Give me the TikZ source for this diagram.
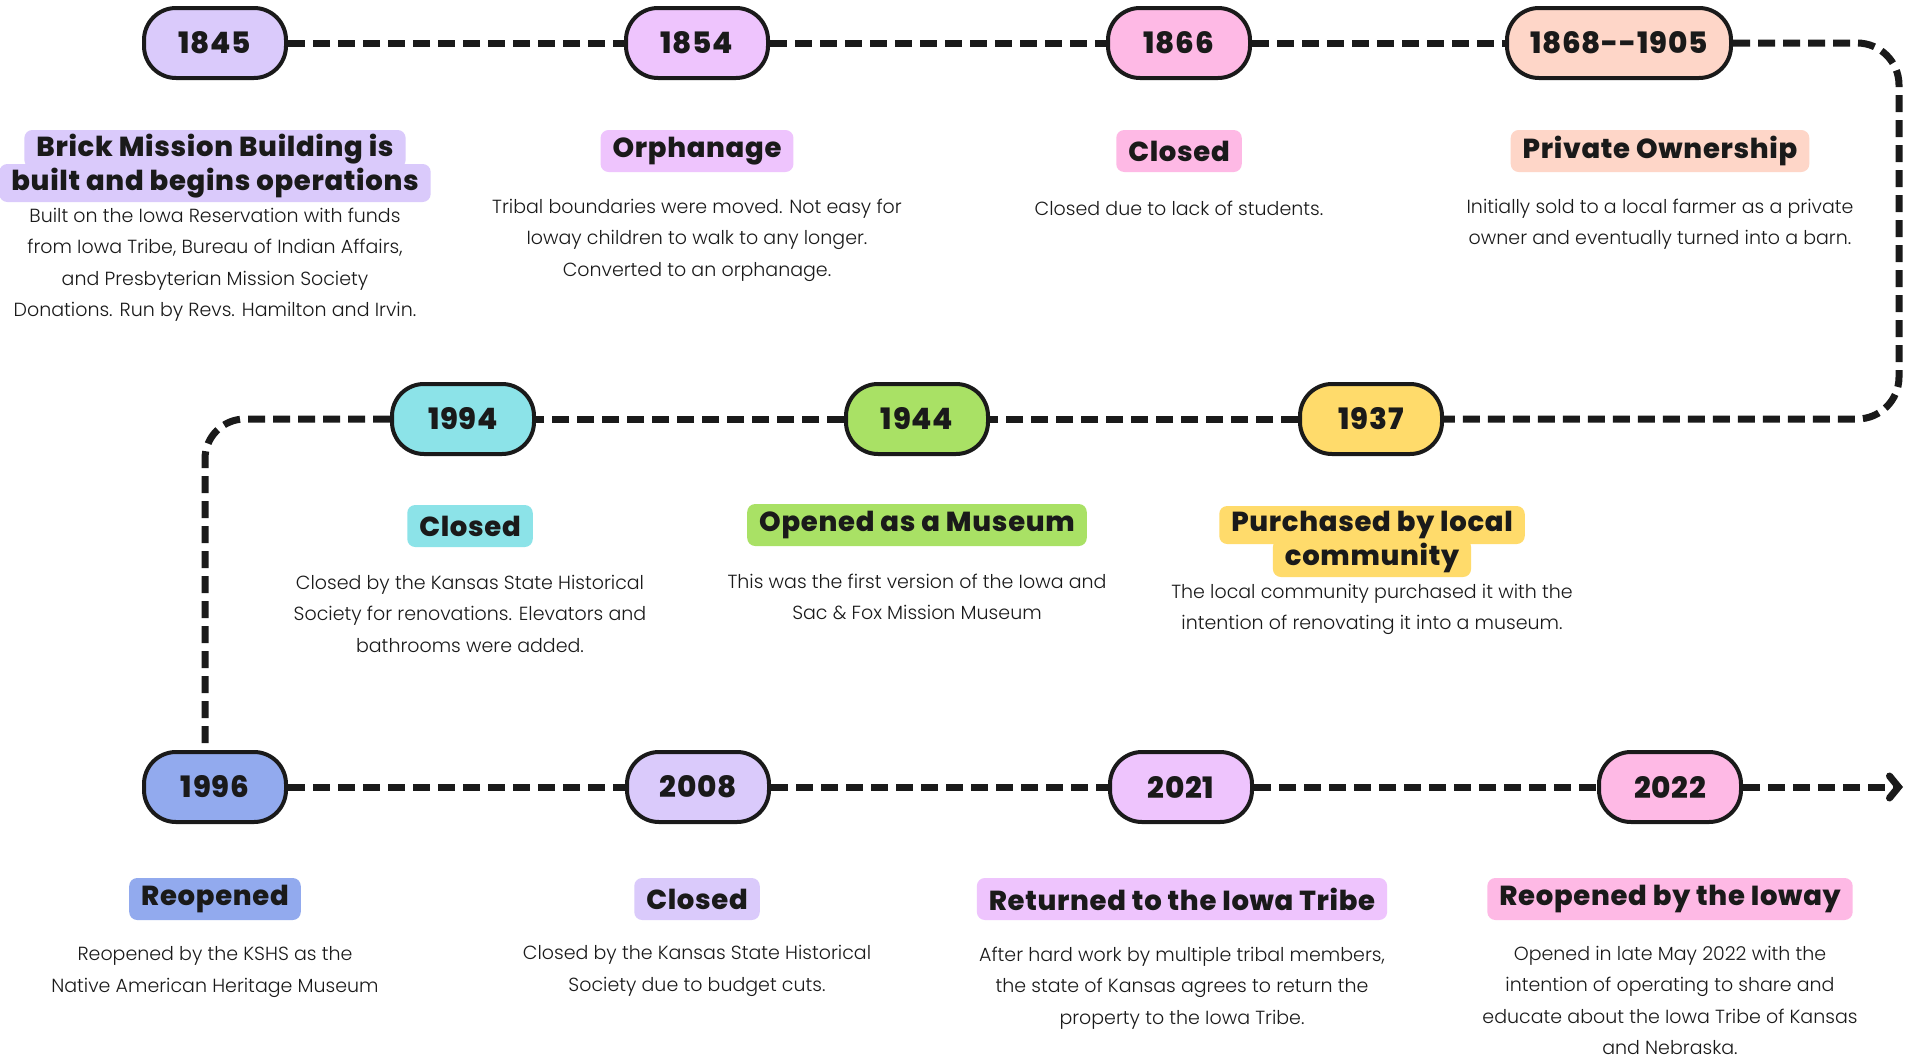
\documentclass[tikz,border=0pt]{standalone}
\usepackage{fontspec}
\setmainfont{Poppins}
\newfontfamily\bodyf{Poppins}[UprightFont=* Light]
\newfontfamily\headf{Poppins}[UprightFont=* ExtraBold, LetterSpace=2.5]
\usetikzlibrary{arrows.meta,backgrounds}
\definecolor{ink}{HTML}{1A1A1A}
\definecolor{cLav}{HTML}{DACAFB}
\definecolor{cOrch}{HTML}{EEC4FD}
\definecolor{cPink}{HTML}{FEB9E5}
\definecolor{cPeach}{HTML}{FED6C8}
\definecolor{cCyan}{HTML}{8CE3E8}
\definecolor{cGreen}{HTML}{A9E165}
\definecolor{cYellow}{HTML}{FFDB6B}
\definecolor{cBlue}{HTML}{92AAEE}
\tikzset{
  pill/.style={draw=ink, line width=4pt, rounded corners=32pt, minimum height=70pt,
    minimum width=142pt, inner sep=0pt, text=ink,
    font=\headf\fontsize{29.5}{31}\selectfont},
  tag/.style={rounded corners=8pt, inner xsep=12pt, inner ysep=0pt, minimum height=42pt,
    text=ink, font=\headf\fontsize{27.5}{30}\selectfont},
  tagline/.style={tag, minimum height=38pt},
  desc/.style={align=center, inner sep=0pt, text=ink,
    font=\bodyf\fontsize{19}{31.5}\selectfont},
  conn/.style={draw=ink, line width=7pt, dash pattern=on 17pt off 8pt}
}
\begin{document}
\begin{tikzpicture}[x=1pt,y=-1pt]
\useasboundingbox (0,0) rectangle (1911,1060);
% ---- row 1
\node[pill, fill=cLav]  (p1) at (215,43) {1845};
\node[pill, fill=cOrch] (p2) at (697,43) {1854};
\node[pill, fill=cPink] (p3) at (1179,43) {1866};
\node[pill, fill=cPeach, minimum width=224pt] (p4) at (1619,43) {1868{-}{-}1905};
\node[tagline, fill=cLav] (t1a) at (215,149) {Brick Mission Building is};
\node[tagline, fill=cLav] (t1b) at (215,183) {built and begins operations};
\node[desc] (d1) at (215,264.5) {Built on the Iowa Reservation with funds\\from Iowa Tribe, Bureau of Indian Affairs,\\and Presbyterian Mission Society\\Donations. Run by Revs. Hamilton and Irvin.};
\node[tag, fill=cOrch] (t2) at (697,151) {Orphanage};
\node[desc] (d2) at (697,240) {Tribal boundaries were moved. Not easy for\\Ioway children to walk to any longer.\\Converted to an orphanage.};
\node[tag, fill=cPink] (t3) at (1179,151) {Closed};
\node[desc] (d3) at (1179,208) {Closed due to lack of students.};
\node[tag, fill=cPeach] (t4) at (1660,151) {Private Ownership};
\node[desc] (d4) at (1660,224) {Initially sold to a local farmer as a private\\owner and eventually turned into a barn.};
% ---- row 2
\node[pill, fill=cYellow] (p5) at (1371,419) {1937};
\node[pill, fill=cGreen]  (p6) at (917,419) {1944};
\node[pill, fill=cCyan]   (p7) at (463,419) {1994};
\node[tagline, fill=cYellow] (t5a) at (1372,525) {Purchased by local};
\node[tagline, fill=cYellow] (t5b) at (1372,558) {community};
\node[desc] (d5) at (1372,609.5) {The local community purchased it with the\\intention of renovating it into a museum.};
\node[tag, fill=cGreen] (t6) at (917,525) {Opened as a Museum};
\node[desc] (d6) at (917,597) {This was the first version of the Iowa and\\Sac \& Fox Mission Museum};
\node[tag, fill=cCyan] (t7) at (470,526) {Closed};
\node[desc] (d7) at (470,613.5) {Closed by the Kansas State Historical\\Society for renovations. Elevators and\\bathrooms were added.};
% ---- row 3
\node[pill, fill=cBlue] (p8)  at (215,787) {1996};
\node[pill, fill=cLav]  (p9)  at (698,787) {2008};
\node[pill, fill=cOrch] (p10) at (1181,787) {2021};
\node[pill, fill=cPink] (p11) at (1670,787) {2022};
\node[tag, fill=cBlue] (t8) at (215,899) {Reopened};
\node[desc] (d8) at (215,972) {Reopened by the KSHS as the\\Native American Heritage Museum};
\node[tag, fill=cLav] (t9) at (697,899) {Closed};
\node[desc] (d9) at (697,971) {Closed by the Kansas State Historical\\Society due to budget cuts.};
\node[tag, fill=cOrch] (t10) at (1182,899) {Returned to the Iowa Tribe};
\node[desc] (d10) at (1182,988) {After hard work by multiple tribal members,\\the state of Kansas agrees to return the\\property to the Iowa Tribe.};
\node[tag, fill=cPink] (t11) at (1670,899) {Reopened by the Ioway};
\node[desc] (d11) at (1670,1000.5) {Opened in late May 2022 with the\\intention of operating to share and\\educate about the Iowa Tribe of Kansas\\and Nebraska.};
% ---- connectors
\coordinate (cR1) at (1899,43);
\coordinate (cR2) at (1899,419);
\coordinate (cL1) at (205,419);
\coordinate (cEnd) at (1903,787);
\begin{scope}[on background layer]
\fill[white] (0,0) rectangle (1911,1060);
\draw[conn] (p1.east) -- (p2.west);
\draw[conn] (p2.east) -- (p3.west);
\draw[conn] (p3.east) -- (p4.west);
\draw[conn, rounded corners=42pt] (p4.east) -- (cR1) -- (cR2) -- (p5.east);
\draw[conn] (p5.west) -- (p6.east);
\draw[conn] (p6.west) -- (p7.east);
\draw[conn, rounded corners=40pt] (p7.west) -- (cL1) -- (cL1 |- p8.north);
\draw[conn] (p8.east) -- (p9.west);
\draw[conn] (p9.east) -- (p10.west);
\draw[conn] (p10.east) -- (p11.west);
\draw[conn, -{Straight Barb[length=9pt,width=22pt,line cap=round]}] (p11.east) -- (cEnd);
\end{scope}
\end{tikzpicture}
\end{document}
